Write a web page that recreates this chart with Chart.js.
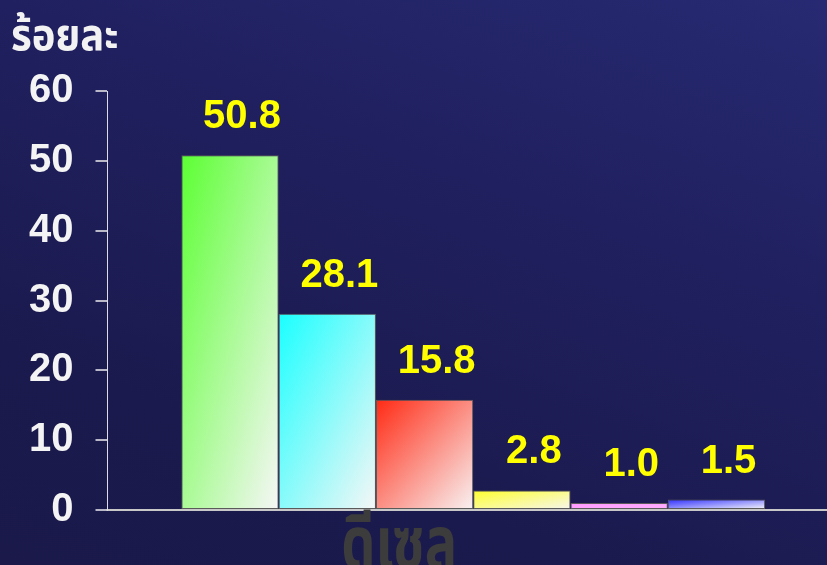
<!DOCTYPE html>
<html>
<head>
<meta charset="utf-8">
<script src="https://cdn.jsdelivr.net/npm/chart.js@4.4.1/dist/chart.umd.min.js"></script>
<style>
    html, body {
        margin: 0;
        padding: 0;
    }
    body {
        width: 827px;
        height: 565px;
        overflow: hidden;
        background: linear-gradient(200deg, #272a72 0%, #202060 35%, #1b1a4e 75%, #1a194a 100%);
    }
    canvas { display: block; }
</style>
</head>
<body>
<!-- canvas runs a little past the right edge, like the original axis -->
<canvas id="chart" width="839" height="565"></canvas>
<script>
    // Data
    const categories = ['ดีเซล'];
    const values = [50.8, 28.1, 15.8, 2.8, 1.0, 1.5];
    const valueLabels = ['50.8', '28.1', '15.8', '2.8', '1.0', '1.5'];
    const yTicks = [0, 10, 20, 30, 40, 50, 60];
    const yTitle = 'ร้อยละ';

    // bar colours: saturated corner -> pale corner
    const barStart = ['#5cff33', '#1affff', '#ff2a14', '#ffff2e', '#ff99ff', '#3030ff'];
    const barEnd = ['#f6f6f6', '#f6f6f6', '#f8f2f2', '#f6f6ec', '#ffb0ff', '#f4f4fa'];

    const LABEL_FONT = 'bold 40px "Liberation Sans", Arial, sans-serif';
    const THAI_FONT = '"Noto Sans Thai", Tahoma, "Noto Sans", sans-serif';

    // Diagonal gradient per bar (isolines parallel to the anti-diagonal)
    const barGradients = {
        id: 'barGradients',
        beforeDatasetsDraw(chart) {
            const ctx = chart.ctx;
            chart.data.datasets.forEach((ds, i) => {
                const meta = chart.getDatasetMeta(i);
                meta.data.forEach(bar => {
                    const x0 = bar.x - bar.width / 2;
                    const y0 = bar.y;
                    const w = bar.width;
                    const h = Math.max(bar.base - bar.y, 1);
                    const s = 2 * w * h / (w * w + h * h);
                    const g = ctx.createLinearGradient(x0, y0, x0 + h * s, y0 + w * s);
                    g.addColorStop(0, barStart[i]);
                    g.addColorStop(1, barEnd[i]);
                    bar.options.backgroundColor = g;
                });
            });
        }
    };

    // Value labels, y title and category text
    const textLabels = {
        id: 'textLabels',
        afterDatasetsDraw(chart) {
            const ctx = chart.ctx;
            const area = chart.chartArea;
            ctx.save();

            ctx.font = LABEL_FONT;
            ctx.fillStyle = '#ffff00';
            ctx.textAlign = 'center';
            ctx.textBaseline = 'alphabetic';
            chart.data.datasets.forEach((ds, i) => {
                const bar = chart.getDatasetMeta(i).data[0];
                ctx.fillText(valueLabels[i], bar.x + 12, bar.y - 27);
            });

            // y title, slightly stretched like the original
            ctx.save();
            ctx.font = 'bold 40px ' + THAI_FONT;
            ctx.fillStyle = '#f2f2f2';
            ctx.textAlign = 'left';
            ctx.scale(1, 1.1);
            ctx.fillText(yTitle, 11, 50 / 1.1);
            ctx.restore();

            // category name under the axis
            const xs = chart.scales.x;
            ctx.save();
            ctx.font = 'bold 54px ' + THAI_FONT;
            ctx.fillStyle = '#3c3c3c';
            ctx.textAlign = 'center';
            ctx.scale(1, 1.35);
            ctx.fillText(categories[0], xs.getPixelForValue(0) - 74, (area.bottom + 58) / 1.35);
            ctx.restore();

            ctx.restore();
        }
    };

    const datasets = values.map((v, i) => ({
        label: valueLabels[i],
        data: [v],
        backgroundColor: barStart[i],
        borderColor: '#5a5a5a',
        borderWidth: 1,
        borderSkipped: false,
        categoryPercentage: 0.798,
        barPercentage: 1.0
    }));

    new Chart(document.getElementById('chart'), {
        type: 'bar',
        data: { labels: categories, datasets: datasets },
        options: {
            responsive: false,
            animation: false,
            layout: {
                padding: { left: 7, top: 91, right: 0, bottom: 47 }
            },
            plugins: {
                legend: { display: false },
                tooltip: { enabled: false }
            },
            scales: {
                x: {
                    grid: { display: false },
                    ticks: { display: false },
                    border: { display: true, color: '#c8c8c8', width: 2 }
                },
                y: {
                    min: 0,
                    max: 60,
                    afterBuildTicks(scale) {
                        scale.ticks = yTicks.map(v => ({ value: v }));
                    },
                    grid: {
                        display: true,
                        drawOnChartArea: false,
                        drawTicks: true,
                        tickLength: 12,
                        color: '#b8b8c8',
                        lineWidth: 2
                    },
                    border: { display: true, color: '#dcdce4', width: 1 },
                    ticks: {
                        color: '#f4f4f4',
                        padding: 22,
                        font: { family: '"Liberation Sans", Arial, sans-serif', size: 40, weight: 'bold' }
                    }
                }
            }
        },
        plugins: [barGradients, textLabels]
    });
</script>
</body>
</html>
